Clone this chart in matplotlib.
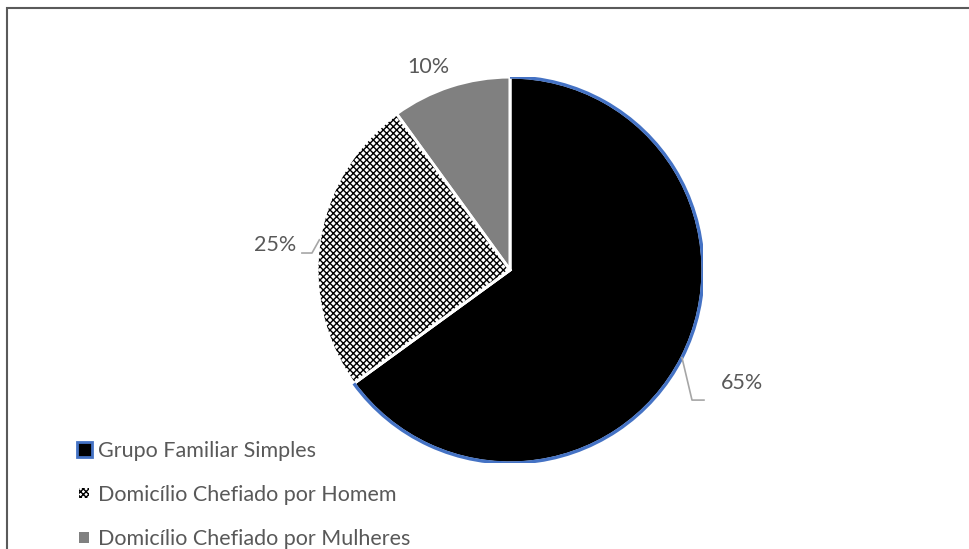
import numpy as np
import matplotlib
matplotlib.use("Agg")
import matplotlib.pyplot as plt
from matplotlib.patches import Arc, Patch, Rectangle, Wedge
from matplotlib.legend_handler import HandlerPatch

plt.rcParams['font.family'] = ['Lato', 'DejaVu Sans']
plt.rcParams['hatch.linewidth'] = 1.0

labels = ["Grupo Familiar Simples", "Domicílio Chefiado por Homem",
          "Domicílio Chefiado por Mulheres"]
values = [65, 25, 10]
pct_labels = ["65%", "25%", "10%"]

text_color = "#595959"
blue = "#4472C4"
fs = 15.5

fig = plt.figure(figsize=(9.70, 5.49), dpi=100)

# outer frame (cut at right/bottom like the screenshot)
fig.patches.append(Rectangle((7 / 970, -0.1), 1.1, 1 - 8 / 549 + 0.1,
                             transform=fig.transFigure, fill=False,
                             edgecolor="#5a5a5a", linewidth=1.5))

ax = fig.add_axes([317 / 970, 86 / 549, 386 / 970, 386 / 549])

wedges, _ = ax.pie(values, startangle=90, counterclock=False,
                   colors=["black", "white", "#808080"],
                   wedgeprops=dict(edgecolor="white", linewidth=2.2))
ax.set_aspect("auto")
ax.set_xlim(-1, 1)
ax.set_ylim(-1, 1)
ax.axis("off")

# hatched slice: black hatch on white, white separator on top
w = wedges[1]
ax.add_patch(Wedge((0, 0), 1, w.theta1, w.theta2, facecolor="white",
                   edgecolor="black", hatch="xxxxx", linewidth=0))
ax.add_patch(Wedge((0, 0), 1, w.theta1, w.theta2, fill=False,
                   edgecolor="white", linewidth=2.2))

# blue outline on the arc of the largest slice
w0 = wedges[0]
ax.add_patch(Arc((0, 0), 2, 2, theta1=w0.theta1, theta2=w0.theta2,
                 edgecolor=blue, linewidth=2.4))

# data labels with leader lines
mids = [np.deg2rad((w.theta1 + w.theta2) / 2) for w in wedges]
lead = "#a6a6a6"
a = mids[0]
ax.plot([np.cos(a), 0.943, 1.005], [np.sin(a), -0.674, -0.674], color=lead,
        lw=1.2, clip_on=False)
ax.text(1.202, -0.585, pct_labels[0], ha="center", va="center",
        fontsize=fs, color=text_color, clip_on=False)
a = mids[1]
ax.plot([np.cos(a), -1.026, -1.078], [np.sin(a), 0.088, 0.088], color=lead,
        lw=1.2, clip_on=False)
ax.text(-1.218, 0.130, pct_labels[1], ha="center", va="center",
        fontsize=fs, color=text_color, clip_on=False)
ax.text(-0.425, 1.052, pct_labels[2], ha="center", va="center",
        fontsize=fs, color=text_color, clip_on=False)


def small_box(legend, orig_handle, xdescent, ydescent, width, height, fontsize):
    s = 0.7
    return Rectangle((-xdescent + width * (1 - s) / 2, -ydescent + height * (1 - s) / 2),
                     width * s, height * s)


handles = [Patch(facecolor="black", edgecolor=blue, linewidth=2),
           Patch(facecolor="white", edgecolor="black", hatch="xxxxxx",
                 linewidth=0),
           Patch(facecolor="#808080", edgecolor="#808080", linewidth=0)]
hmap = {handles[1]: HandlerPatch(patch_func=small_box),
        handles[2]: HandlerPatch(patch_func=small_box)}
leg = fig.legend(handles, labels, loc="upper left", handler_map=hmap,
                 bbox_to_anchor=(68 / 970, 1 - 432 / 549), frameon=False,
                 fontsize=fs, labelspacing=1.12, handlelength=0.7,
                 handleheight=0.7, handletextpad=0.3, borderaxespad=0)
for t in leg.get_texts():
    t.set_color(text_color)

fig.savefig("out.png", dpi=100)
